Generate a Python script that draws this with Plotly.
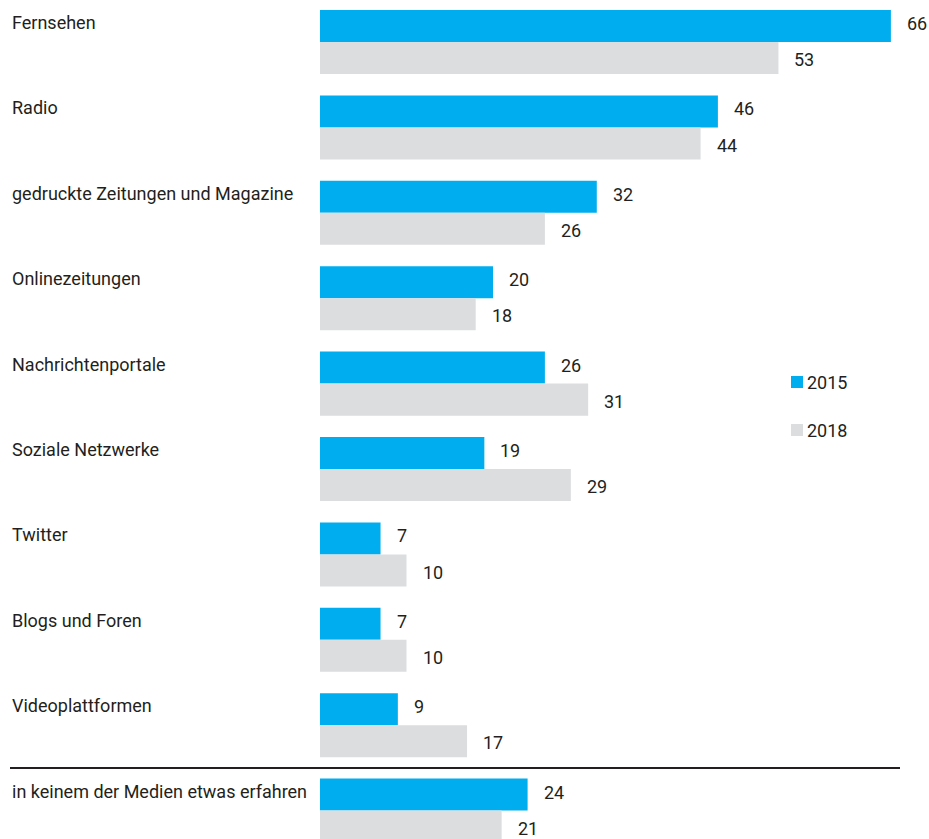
import plotly.graph_objects as go

categories = ["Fernsehen", "Radio", "gedruckte Zeitungen und Magazine", "Onlinezeitungen",
              "Nachrichtenportale", "Soziale Netzwerke", "Twitter", "Blogs und Foren",
              "Videoplattformen", "in keinem der Medien etwas erfahren"]
values_2015 = [66, 46, 32, 20, 26, 19, 7, 7, 9, 24]
values_2018 = [53, 44, 26, 18, 31, 29, 10, 10, 17, 21]
series_names = ["2015", "2018"]

BLUE = "#00AEEF"
GRAY = "#DCDDDF"
TEXT = "#231F20"
FONT = "Roboto, Arial, sans-serif"

W, H = 929, 839
L = 320
plot_w = W - L
px_per_unit = 8.65
xmax = plot_w / px_per_unit

pos = list(range(len(categories)))
bw = 0.375

fig = go.Figure()
fig.add_trace(go.Bar(y=pos, x=values_2015, orientation="h", name=series_names[0],
                     marker=dict(color=BLUE, line=dict(width=0)), width=bw, offset=-bw,
                     showlegend=False, hoverinfo="skip"))
fig.add_trace(go.Bar(y=pos, x=values_2018, orientation="h", name=series_names[1],
                     marker=dict(color=GRAY, line=dict(width=0)), width=bw, offset=0,
                     showlegend=False, hoverinfo="skip"))

ann = []
for i, c in enumerate(categories):
    ann.append(dict(xref="paper", yref="y", x=(10 - L) / plot_w, y=i - bw / 2 - 0.04,
                    text=c, showarrow=False, xanchor="left", yanchor="middle",
                    font=dict(family=FONT, size=18, color=TEXT)))
    ann.append(dict(xref="x", yref="y", x=values_2015[i], y=i - bw / 2 - 0.03,
                    text=str(values_2015[i]), showarrow=False, xanchor="left", yanchor="middle",
                    xshift=14, font=dict(family=FONT, size=18, color=TEXT)))
    ann.append(dict(xref="x", yref="y", x=values_2018[i], y=i + bw / 2 + 0.02,
                    text=str(values_2018[i]), showarrow=False, xanchor="left", yanchor="middle",
                    xshift=14, font=dict(family=FONT, size=18, color=TEXT)))

top_px = 42
spacing = 85.4
y_top = -top_px / spacing
y_bot = (H - top_px) / spacing

def px_x(X):
    return (X - L) / plot_w

def px_y(Y):
    return 1 - Y / H

shapes = [dict(type="line", xref="paper", yref="y", x0=px_x(10), x1=px_x(900),
               y0=8.5, y1=8.5, line=dict(color=TEXT, width=2))]

# legend (manual, to match the tight swatch/label spacing)
legend_rows = [(series_names[0], BLUE, 382), (series_names[1], GRAY, 430)]
for name, col, yc in legend_rows:
    shapes.append(dict(type="rect", xref="paper", yref="paper",
                       x0=px_x(791), x1=px_x(803), y0=px_y(yc + 6), y1=px_y(yc - 6),
                       fillcolor=col, line=dict(width=0)))
    ann.append(dict(xref="paper", yref="paper", x=px_x(805), y=px_y(yc), text=name,
                    showarrow=False, xanchor="left", yanchor="middle",
                    font=dict(family=FONT, size=18, color=TEXT)))

fig.update_layout(
    width=W, height=H,
    margin=dict(l=L, r=0, t=0, b=0),
    paper_bgcolor="white", plot_bgcolor="white",
    barmode="overlay",
    xaxis=dict(range=[0, xmax], visible=False, fixedrange=True),
    yaxis=dict(range=[y_bot, y_top], visible=False, fixedrange=True),
    annotations=ann,
    shapes=shapes,
    showlegend=False,
    hovermode=False,
)

fig.write_html("out.html", config={"displayModeBar": False, "staticPlot": True},
               post_script="document.body.style.margin='0';document.body.style.overflow='hidden';")
